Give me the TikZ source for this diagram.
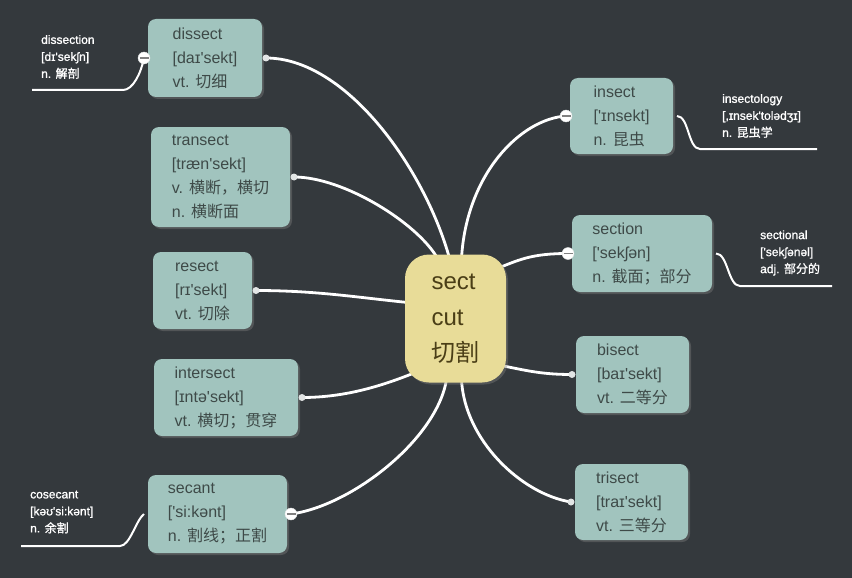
\documentclass[tikz,border=0pt]{standalone}
\usepackage{fontspec}
\setmainfont{Liberation Sans}
\newfontfamily\notefont{Liberation Sans}[FakeBold=1.2]
\newfontfamily\cjk{Noto Sans CJK SC}
\newfontfamily\notecjk{Noto Sans CJK SC}[FakeBold=1]
\usetikzlibrary{backgrounds,shadows,calc}
\definecolor{board}{RGB}{52,57,61}
\definecolor{card}{RGB}{161,196,190}
\definecolor{cardtext}{RGB}{62,74,72}
\definecolor{rootfill}{RGB}{232,220,152}
\definecolor{roottext}{RGB}{74,62,22}
\definecolor{dotgray}{RGB}{226,229,229}
\newcommand\strs{\textquotesingle}
\begin{document}
\begin{tikzpicture}
        [x=1pt,y=-1pt,
        word/.style={rectangle,rounded corners=8pt,fill=card,text=cardtext,align=left,
            inner sep=0pt,outer sep=4pt,font=\fontsize{16}{24}\selectfont,
            drop shadow={shadow xshift=2pt,shadow yshift=-2pt,opacity=0.4}},
        stem/.style={rectangle,rounded corners=24pt,fill=rootfill,text=roottext,align=left,
            inner sep=0pt,minimum width=101,minimum height=128,font=\fontsize{24}{36}\selectfont,
            drop shadow={shadow xshift=2pt,shadow yshift=-2pt,opacity=0.4}},
        note/.style={anchor=west,align=left,inner sep=0pt,text=white,font=\notefont\fontsize{12}{17}\selectfont},
        branch/.style={draw=white,line width=2.8pt},
        twig/.style={draw=white,line width=2pt},
        dot/.style={circle,inner sep=0pt,minimum size=7,fill=dotgray},
        fold/.style={circle,inner sep=0pt,minimum size=12,fill=white,draw=dotgray,
            path picture={\draw[gray,line width=1.6pt]
                ([xshift=1.5pt]path picture bounding box.west) -- ([xshift=-1.5pt]path picture bounding box.east);}}]
        \useasboundingbox (0,0) rectangle (852,578);
        \node[stem] (sect) at (455.5,318.5) {sect\\cut\\{\cjk 切割}};
        \node[word,minimum width=114,minimum height=78] (dissect) at (205,58)
            {dissect\\{}[daɪ\strs sekt]\\vt. {\cjk 切细}};
        \node[word,minimum width=139,minimum height=100] (transect) at (220.5,177)
            {transect\\{}[træn\strs sekt]\\v. {\cjk 横断，横切}\\n. {\cjk 横断面}};
        \node[word,minimum width=99,minimum height=77] (resect) at (202.5,290.5)
            {resect\\{}[rɪ\strs sekt]\\vt. {\cjk 切除}};
        \node[word,minimum width=144,minimum height=77] (intersect) at (226,397.5)
            {intersect\\{}[ɪntə\strs sekt]\\vt. {\cjk 横切；贯穿}};
        \node[word,minimum width=139,minimum height=78] (secant) at (217.5,514)
            {secant\\{}[\strs si:kənt]\\n. {\cjk 割线；正割}};
        \node[word,minimum width=103,minimum height=76] (insect) at (621.5,116)
            {insect\\{}[\strs ɪnsekt]\\n. {\cjk 昆虫}};
        \node[word,minimum width=140,minimum height=77] (section) at (642,253.5)
            {section\\{}[\strs sekʃən]\\n. {\cjk 截面；部分}};
        \node[word,minimum width=113,minimum height=77] (bisect) at (632.5,374.5)
            {bisect\\{}[baɪ\strs sekt]\\vt. {\cjk 二等分}};
        \node[word,minimum width=113,minimum height=76] (trisect) at (631.5,502)
            {trisect\\{}[traɪ\strs sekt]\\vt. {\cjk 三等分}};
        \node[note] (dissection) at (41,57) {dissection\\{}[dɪ\strs sekʃn]\\n. {\notecjk 解剖}};
        \node[note] (insectology) at (722,116) {insectology\\{}[,ɪnsek\strs tolədʒɪ]\\n. {\notecjk 昆虫学}};
        \node[note] (sectional) at (760,253) {sectional\\{}[\strs sekʃənəl]\\adj. {\notecjk 部分的}};
        \node[note] (cosecant) at (30,512) {cosecant\\{}[kəʊ\strs si:kənt]\\n. {\notecjk 余割}};
        \begin{scope}[on background layer]
            \fill[board] (0,0) rectangle (852,578);
            \draw[branch] (dissect.east) .. controls +(80,0) and +(-25,-90) .. ($(sect.north)+(-6,4)$);
            \draw[branch] (transect.east) .. controls +(50,0) and +(-20,-35) .. ($(sect.north)+(-18,4)$);
            \draw[branch] (resect.east) .. controls +(60,0) and +(-50,-5) .. ($(sect.west)+(3,-16)$);
            \draw[branch] (intersect.east) .. controls +(45,0) and +(-30,12) .. ($(sect.south west)+(10,-10)$);
            \draw[branch] (secant.east) .. controls +(60,-8) and +(-10,60) .. ($(sect.south)+(-9,-3)$);
            \draw[branch] (insect.west) .. controls +(-45,3) and +(5,-85) .. ($(sect.north)+(6,4)$);
            \draw[branch] (section.west) .. controls +(-35,0) and +(20,-8) .. ($(sect.north east)+(-6,13)$);
            \draw[branch] (bisect.west) .. controls +(-30,0) and +(25,5) .. ($(sect.south east)+(-4,-17)$);
            \draw[branch] (trisect.west) .. controls +(-50,-8) and +(3,60) .. ($(sect.south)+(6,-3)$);
            \draw[twig] (dissect.west) .. controls +(-3,15) and +(10,0) .. ++(-21,32) -- ++(-91,0);
            \draw[twig] (insect.east) .. controls +(12,0) and +(-12,0) .. ++(23,33) -- ++(117,0);
            \draw[twig] (section.east) .. controls +(12,0) and +(-12,0) .. ++(24,32.5) -- ++(92,0);
            \draw[twig] (secant.west) .. controls +(-8,6) and +(10,0) .. ++(-24,32) -- ++(-99,0);
        \end{scope}
        \node[dot] (dissect-dot) at (dissect.east) {};
        \node[dot] (transect-dot) at (transect.east) {};
        \node[dot] (resect-dot) at (resect.east) {};
        \node[dot] (intersect-dot) at (intersect.east) {};
        \node[dot] (bisect-dot) at (bisect.west) {};
        \node[dot] (trisect-dot) at (trisect.west) {};
        \node[fold] (dissect-fold) at (dissect.west) {};
        \node[fold] (insect-fold) at (insect.west) {};
        \node[fold] (section-fold) at (section.west) {};
        \node[fold] (secant-fold) at (secant.east) {};
    \end{tikzpicture}
\end{document}
